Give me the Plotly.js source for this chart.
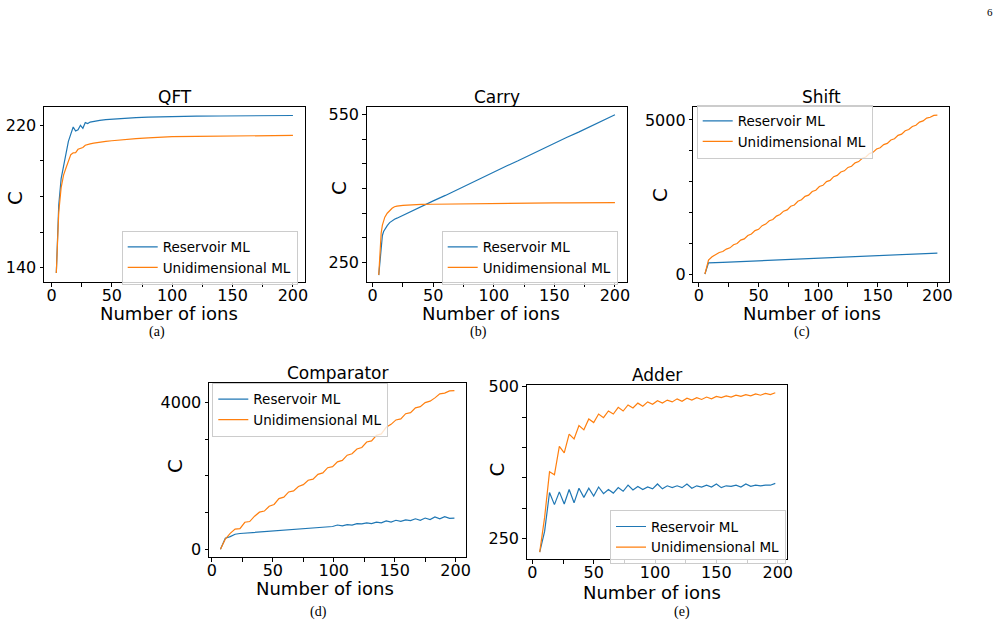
<!DOCTYPE html>
<html>
<head>
<meta charset="utf-8">
<script src="https://cdn.plot.ly/plotly-3.0.1.min.js"></script>
<style>html,body{margin:0;padding:0;background:#fff;}#chart{width:1000px;height:625px;}</style>
</head>
<body>
<div id="chart"></div>
<script>
// ---------- data ----------
const seriesNames = ['Reservoir ML', 'Unidimensional ML'];
const panelTitles = ['QFT', 'Carry', 'Shift', 'Comparator', 'Adder'];
const panelCaptions = ['(a)', '(b)', '(c)', '(d)', '(e)'];
const xLabel = 'Number of ions';
const yLabel = 'C';

const xTickVals = [0, 25, 50, 75, 100, 125, 150, 175, 200];
const xTickText = ['0', '', '50', '', '100', '', '150', '', '200'];

// (a) QFT
const qftX = [4, 6, 8, 10, 12, 14, 16, 18, 20, 22, 24, 26, 28, 30, 32, 35, 40, 45, 50, 60, 70, 80, 90, 100, 120, 140, 160, 180, 200];
const qftReservoir = [137, 175, 190, 197, 204, 211, 215, 219, 216.8, 217.5, 220, 218.3, 221.5, 221, 221.8, 222.3, 222.8, 223.2, 223.5, 223.9, 224.3, 224.6, 224.8, 225, 225.1, 225.2, 225.3, 225.4, 225.5];
const qftUnidim = [137, 171, 185, 192, 196, 200, 203.5, 204.5, 204.6, 206.5, 207.2, 207.5, 208.8, 209.3, 209.6, 210, 210.6, 211, 211.3, 212, 212.5, 212.9, 213.3, 213.6, 213.8, 214, 214.1, 214.2, 214.3];
const qftYTicks = [140, 160, 180, 200, 220];
const qftYText = ['140', '', '', '', '220'];

// (b) Carry
const carryX = [5, 6, 7, 8, 9, 10, 12, 14, 16, 18, 20, 25, 30, 40, 50, 60, 70, 80, 90, 100, 110, 120, 130, 140, 150, 160, 170, 180, 190, 200];
const carryReservoir = [225, 255, 285, 305, 313, 318, 325, 331, 335, 338, 340, 346, 351, 363, 375, 386, 398, 410, 421, 433, 445, 456, 468, 479, 491, 503, 514, 526, 538, 549];
const carryUnidim = [225, 275, 310, 326, 336, 342, 350, 356, 360, 363, 364.5, 366, 367, 367.8, 368.2, 368.6, 369, 369.3, 369.6, 370, 370.2, 370.4, 370.6, 370.8, 370.9, 371, 371.1, 371.2, 371.3, 371.4];
const carryYTicks = [250, 300, 350, 400, 450, 500, 550];
const carryYText = ['250', '', '', '', '', '', '550'];

// (c) Shift
const shiftResX = [5, 8, 20, 40, 60, 80, 100, 120, 140, 160, 180, 200];
const shiftReservoir = [0, 360, 380, 413, 447, 480, 513, 547, 580, 613, 647, 680];
const shiftUniX = [5, 8, 11, 14, 17, 20, 23, 26, 29, 32, 35, 38, 41, 44, 47, 50, 53, 56, 59, 62, 65, 68, 71, 74, 77, 80, 83, 86, 89, 92, 95, 98, 101, 104, 107, 110, 113, 116, 119, 122, 125, 128, 131, 134, 137, 140, 143, 146, 149, 152, 155, 158, 161, 164, 167, 170, 173, 176, 179, 182, 185, 188, 191, 194, 197, 200];
const shiftUnidim = [0, 450, 560, 620, 700, 730, 810, 850, 950, 990, 1100, 1140, 1250, 1300, 1410, 1450, 1570, 1620, 1730, 1770, 1880, 1930, 2040, 2080, 2200, 2240, 2360, 2410, 2520, 2560, 2680, 2720, 2840, 2880, 3000, 3040, 3160, 3200, 3310, 3350, 3460, 3500, 3610, 3650, 3760, 3800, 3910, 3950, 4060, 4100, 4200, 4240, 4350, 4390, 4500, 4540, 4650, 4690, 4790, 4830, 4930, 4970, 5060, 5090, 5150, 5160];
const shiftYTicks = [0, 1000, 2000, 3000, 4000, 5000];
const shiftYText = ['0', '', '', '', '', '5000'];

// (d) Comparator
const compX = [7, 11, 15, 19, 23, 27, 31, 35, 39, 43, 47, 51, 55, 59, 63, 67, 71, 75, 79, 83, 87, 91, 95, 99, 103, 107, 111, 115, 119, 123, 127, 131, 135, 139, 143, 147, 151, 155, 159, 163, 167, 171, 175, 179, 183, 187, 191, 195, 199];
const compReservoir = [0, 300, 345, 410, 430, 440, 460, 470, 480, 490, 500, 515, 525, 535, 545, 555, 565, 570, 585, 590, 605, 610, 630, 620, 660, 640, 670, 660, 700, 690, 720, 700, 740, 720, 770, 740, 790, 760, 800, 780, 830, 790, 850, 810, 880, 830, 890, 840, 850];
const compUnidim = [0, 280, 435, 550, 560, 735, 755, 900, 1010, 1040, 1170, 1220, 1380, 1420, 1560, 1590, 1710, 1760, 1880, 1910, 2040, 2080, 2220, 2250, 2380, 2420, 2560, 2600, 2730, 2770, 2920, 2950, 3100, 3140, 3320, 3400, 3520, 3550, 3690, 3720, 3850, 3880, 3990, 4030, 4120, 4230, 4250, 4310, 4320];
const compYTicks = [0, 1000, 2000, 3000, 4000];
const compYText = ['0', '', '', '', '4000'];

// (e) Adder
const adderX = [6, 10, 14, 18, 22, 26, 30, 34, 38, 42, 46, 50, 54, 58, 62, 66, 70, 74, 78, 82, 86, 90, 94, 98, 102, 106, 110, 114, 118, 122, 126, 130, 134, 138, 142, 146, 150, 154, 158, 162, 166, 170, 174, 178, 182, 186, 190, 194, 198];
const adderReservoir = [228, 262, 326, 306, 327, 307, 331, 309, 333, 318, 333, 320, 335, 324, 331, 325, 334, 328, 338, 330, 336, 331, 335, 332, 340, 332, 337, 334, 337, 334, 340, 333, 337, 335, 338, 335, 340, 334, 337, 336, 338, 335, 340, 336, 338, 337, 338, 338, 341];
const adderUnidim = [228, 285, 360, 355, 402, 391, 422, 414, 436, 429, 447, 441, 455, 449, 460, 455, 466, 460, 470, 465, 473, 468, 475, 471, 477, 473, 478, 475, 480, 476, 481, 478, 482, 479, 483, 480, 484, 482, 485, 483, 486, 484, 487, 485, 488, 486, 489, 487, 490];
const adderYTicks = [250, 300, 350, 400, 450, 500];
const adderYText = ['250', '', '', '', '', '500'];

// ---------- layout helpers ----------
const W = 1000, H = 625;
const BLUE = '#1f77b4', ORANGE = '#ff7f0e';
const FONT = 'DejaVu Sans, Liberation Sans, sans-serif';
const SERIF = 'Liberation Serif, DejaVu Serif, serif';

// pixel boxes of the five axes: [left, right, top, bottom]
const boxes = [
  [44, 305, 107.3, 282.3],
  [366.7, 626.7, 107.3, 282.3],
  [693.3, 949, 107.3, 282.3],
  [209, 466, 382.7, 557.3],
  [526.7, 787.3, 385, 559.3]
];
const xRanges = [[-6.2, 210], [-4.95, 209.7], [-4.75, 209.75], [-2.4, 208.5], [-4.6, 207.8]];
const yRanges = [[131.8, 230.1], [210.4, 564.1], [-269, 5412], [-218, 4533], [216.1, 502.8]];
const yTicks = [[qftYTicks, qftYText], [carryYTicks, carryYText], [shiftYTicks, shiftYText], [compYTicks, compYText], [adderYTicks, adderYText]];

const px = v => v / W;
const py = v => 1 - v / H;

const layout = {
  width: W, height: H,
  margin: {l: 0, r: 0, t: 0, b: 0},
  paper_bgcolor: '#ffffff',
  plot_bgcolor: '#ffffff',
  showlegend: true,
  font: {family: FONT, color: '#000000'},
  annotations: []
};

boxes.forEach((b, i) => {
  const n = i === 0 ? '' : String(i + 1);
  layout['xaxis' + n] = {
    domain: [px(b[0]), px(b[1])],
    range: xRanges[i],
    anchor: 'y' + n,
    tickmode: 'array', tickvals: xTickVals, ticktext: xTickText,
    ticks: 'outside', ticklen: 3.5, tickwidth: 1, tickcolor: '#000',
    ticklabelstandoff: -5,
    showline: true, linecolor: '#000', linewidth: 1, mirror: true,
    showgrid: false, zeroline: false,
    tickfont: {family: FONT, size: 16, color: '#000'}
  };
  layout['yaxis' + n] = {
    domain: [py(b[3]), py(b[2])],
    range: yRanges[i],
    anchor: 'x' + n,
    tickmode: 'array', tickvals: yTicks[i][0], ticktext: yTicks[i][1],
    ticks: 'outside', ticklen: 3.5, tickwidth: 1, tickcolor: '#000',
    showline: true, linecolor: '#000', linewidth: 1, mirror: true,
    showgrid: false, zeroline: false,
    tickfont: {family: FONT, size: 16, color: '#000'}
  };
  // panel title
  layout.annotations.push({
    text: panelTitles[i], xref: 'paper', yref: 'paper',
    x: px((b[0] + b[1]) / 2), y: py(b[2]), xanchor: 'center', yanchor: 'bottom',
    yshift: -1, borderpad: 0,
    showarrow: false, font: {family: FONT, size: 17, color: '#000'}
  });
});

// axis labels (x label, rotated y label) and captions
const xLabelPos = [[168.5, 313.5], [491.3, 313.5], [811.7, 313.5], [325, 588.5], [652, 592]];
const yLabelPos = [[15, 198], [339, 188], [660, 195], [175.5, 466.5], [496.5, 470]];
const captionPos = [[157, 332], [478, 332], [802, 332], [318, 612], [682, 612]];
for (let i = 0; i < 5; i++) {
  layout.annotations.push({
    text: xLabel, xref: 'paper', yref: 'paper',
    x: px(xLabelPos[i][0]), y: py(xLabelPos[i][1]), xanchor: 'center', yanchor: 'middle',
    borderpad: 0,
    showarrow: false, font: {family: FONT, size: 18, color: '#000'}
  });
  layout.annotations.push({
    text: yLabel, xref: 'paper', yref: 'paper', textangle: -90,
    x: px(yLabelPos[i][0]), y: py(yLabelPos[i][1]), xanchor: 'center', yanchor: 'middle',
    borderpad: 0,
    showarrow: false, font: {family: FONT, size: 20, color: '#000'}
  });
  layout.annotations.push({
    text: panelCaptions[i], xref: 'paper', yref: 'paper',
    x: px(captionPos[i][0]), y: py(captionPos[i][1]), xanchor: 'center', yanchor: 'middle',
    borderpad: 0,
    showarrow: false, font: {family: SERIF, size: 14, color: '#000'}
  });
}
// page number
layout.annotations.push({
  text: '6', xref: 'paper', yref: 'paper', x: px(990), y: py(12),
  xanchor: 'center', yanchor: 'middle', showarrow: false,
  font: {family: SERIF, size: 11, color: '#000'}
});

// legends (one per panel)
const legendPos = [[121.7, 230.5], [441.7, 230.5], [696.7, 104.5], [212.3, 382.9], [610, 510.2]];
legendPos.forEach((p, i) => {
  const key = i === 0 ? 'legend' : 'legend' + (i + 1);
  layout[key] = {
    x: px(p[0]), y: py(p[1]), xanchor: 'left', yanchor: 'top',
    xref: 'paper', yref: 'paper',
    bgcolor: 'rgba(255,255,255,0.8)', bordercolor: '#cccccc', borderwidth: 1,
    font: {family: FONT, size: 13.5, color: '#000'},
    tracegroupgap: 0, itemwidth: 30
  };
});

// ---------- traces ----------
const panelData = [
  [qftX, qftReservoir, qftX, qftUnidim],
  [carryX, carryReservoir, carryX, carryUnidim],
  [shiftResX, shiftReservoir, shiftUniX, shiftUnidim],
  [compX, compReservoir, compX, compUnidim],
  [adderX, adderReservoir, adderX, adderUnidim]
];
const traces = [];
panelData.forEach((d, i) => {
  const n = i === 0 ? '' : String(i + 1);
  const leg = i === 0 ? 'legend' : 'legend' + (i + 1);
  traces.push({
    x: d[0], y: d[1], type: 'scatter', mode: 'lines', name: seriesNames[0],
    xaxis: 'x' + n, yaxis: 'y' + n, legend: leg,
    line: {color: BLUE, width: 1.2}
  });
  traces.push({
    x: d[2], y: d[3], type: 'scatter', mode: 'lines', name: seriesNames[1],
    xaxis: 'x' + n, yaxis: 'y' + n, legend: leg,
    line: {color: ORANGE, width: 1.2}
  });
});

Plotly.newPlot('chart', traces, layout, {staticPlot: true, displayModeBar: false});
</script>
</body>
</html>
